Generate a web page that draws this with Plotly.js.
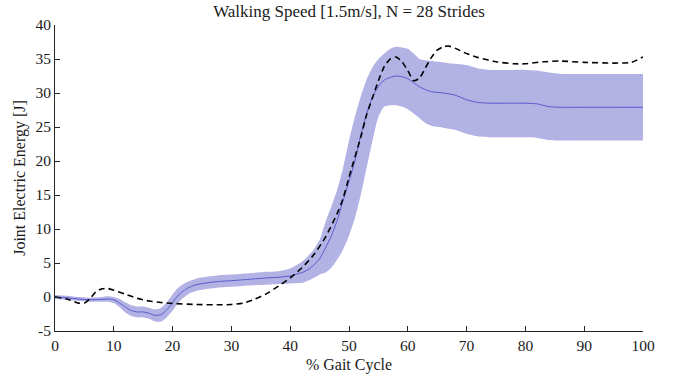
<!DOCTYPE html>
<html>
<head>
<meta charset="utf-8">
<script src="https://cdn.plot.ly/plotly-3.0.1.min.js"></script>
<style>html,body{margin:0;padding:0;background:#fff;}#chart{width:681px;height:377px;}</style>
</head>
<body>
<div id="chart"></div>
<script>
// % gait cycle grid for the mean and the ±band
const gaitX = [0,2,4,6,8,9,10,11,12,13,14,15,16,17,18,19,20,21,22,23,24,26,28,30,33,36,38,40,42,43,44,45,46,47,48,49,50,51,52,53,54,55,56,57,58,59,60,61,62,63,64,66,68,70,72,74,76,78,80,82,84,86,90,95,100];
const meanEnergy = [0,-0.1,-0.3,-0.4,-0.35,-0.3,-0.4,-0.9,-1.5,-2.0,-2.2,-2.2,-2.4,-2.7,-2.6,-1.9,-0.8,0.3,1.0,1.5,1.8,2.1,2.3,2.4,2.6,2.8,2.9,3.1,3.6,4.0,4.7,5.6,7.2,9.0,11.3,14.2,17.0,20.0,23.8,27.0,29.4,31.0,31.9,32.3,32.5,32.4,32.1,31.5,30.9,30.5,30.2,30.0,29.7,29.0,28.6,28.5,28.5,28.5,28.5,28.4,28.0,27.9,27.9,27.9,27.9];
const upperEnergy = [0.3,0.2,0.0,-0.1,0.0,0.1,0.0,-0.3,-0.8,-1.2,-1.4,-1.4,-1.6,-1.8,-1.6,-0.8,0.4,1.4,2.0,2.4,2.7,3.0,3.2,3.3,3.5,3.7,3.8,4.2,5.2,6.0,7.0,8.4,11.0,13.3,15.8,19.0,23.0,26.5,29.5,32.0,33.8,35.0,35.8,36.5,36.8,36.7,36.5,35.8,35.0,34.8,34.7,34.5,34.3,34.1,33.6,33.4,33.4,33.4,33.4,33.3,33.0,32.8,32.8,32.8,32.8];
const lowerEnergy = [-0.3,-0.4,-0.6,-0.7,-0.7,-0.7,-0.9,-1.5,-2.3,-2.8,-3.0,-3.0,-3.2,-3.6,-3.6,-3.0,-2.0,-0.8,0.0,0.6,0.9,1.2,1.4,1.5,1.7,1.8,1.9,2.0,2.1,2.4,2.8,3.3,3.6,4.3,5.5,7.0,9.0,11.6,15.0,19.0,23.0,26.5,28.0,28.2,28.2,28.0,27.6,27.0,26.3,25.6,25.2,24.9,24.6,24.0,23.6,23.5,23.5,23.5,23.5,23.4,23.1,23.0,23.0,23.0,23.0];
// dashed reference curve
const refX = [0,2,4,5,6,7,8,9,10,12,14,16,18,20,24,28,30,32,34,36,38,40,42,44,46,48,49,50,52,53,54,55,56,57,58,59,60,61,62,63,64,65,66,67,68,70,72,75,78,80,83,86,90,95,98,100];
const refEnergy = [0,-0.3,-0.9,-0.9,-0.2,0.8,1.2,1.25,1.0,0.4,-0.2,-0.6,-0.8,-0.95,-1.1,-1.15,-1.1,-0.9,-0.3,0.5,1.6,2.8,4.3,6.2,8.8,12.3,14.5,17.6,23.5,26.8,29.3,31.8,33.9,35.0,35.3,34.6,33.3,31.8,32.2,33.7,35.2,36.3,36.8,36.9,36.6,35.8,35.2,34.6,34.3,34.3,34.6,34.7,34.5,34.4,34.5,35.3];
const xTicks = [0,10,20,30,40,50,60,70,80,90,100];
const yTicks = [-5,0,5,10,15,20,25,30,35,40];

const FONT = "'Liberation Serif', 'DejaVu Serif', serif";
const TXT = '#1a1a1a';
const bandColor = 'rgb(178,178,228)';
const traces = [
  {x: gaitX, y: lowerEnergy, type: 'scatter', mode: 'lines', line: {width: 0, color: bandColor, shape: 'spline', smoothing: 0.6}, hoverinfo: 'skip', showlegend: false},
  {x: gaitX, y: upperEnergy, type: 'scatter', mode: 'lines', fill: 'tonexty', fillcolor: bandColor, line: {width: 0, color: bandColor, shape: 'spline', smoothing: 0.6}, hoverinfo: 'skip', showlegend: false},
  {x: gaitX, y: meanEnergy, type: 'scatter', mode: 'lines', line: {width: 1, color: 'rgb(90,90,205)', shape: 'spline', smoothing: 0.6}, showlegend: false},
  {x: refX, y: refEnergy, type: 'scatter', mode: 'lines', line: {width: 1.6, color: '#000', dash: '6px,4px', shape: 'spline', smoothing: 0.6}, showlegend: false}
];
const axisCommon = {
  showgrid: false, zeroline: false, showline: true, linecolor: '#262626', linewidth: 1,
  ticks: 'inside', ticklen: 5, tickwidth: 1, tickcolor: '#262626',
  tickfont: {family: FONT, size: 15.5, color: TXT}, mirror: false, fixedrange: true
};
const layout = {
  width: 681, height: 377,
  margin: {l: 55, r: 38, t: 25, b: 46},
  paper_bgcolor: '#fff', plot_bgcolor: '#fff',
  title: {text: 'Walking Speed [1.5m/s], N = 28 Strides', font: {family: FONT, size: 17, color: TXT}, x: 0.5, xanchor: 'center', xref: 'paper', y: 0.97, yanchor: 'middle'},
  xaxis: Object.assign({}, axisCommon, {range: [0, 100], tickvals: xTicks, ticktext: xTicks.map(String),
    title: {text: '% Gait Cycle', font: {family: FONT, size: 16, color: TXT}, standoff: 6}}),
  yaxis: Object.assign({}, axisCommon, {range: [-5, 40], tickvals: yTicks, ticktext: yTicks.map(String),
    title: {text: 'Joint Electric Energy [J]', font: {family: FONT, size: 16, color: TXT}, standoff: 5}})
};
Plotly.newPlot('chart', traces, layout, {staticPlot: true, displayModeBar: false});
</script>
</body>
</html>
